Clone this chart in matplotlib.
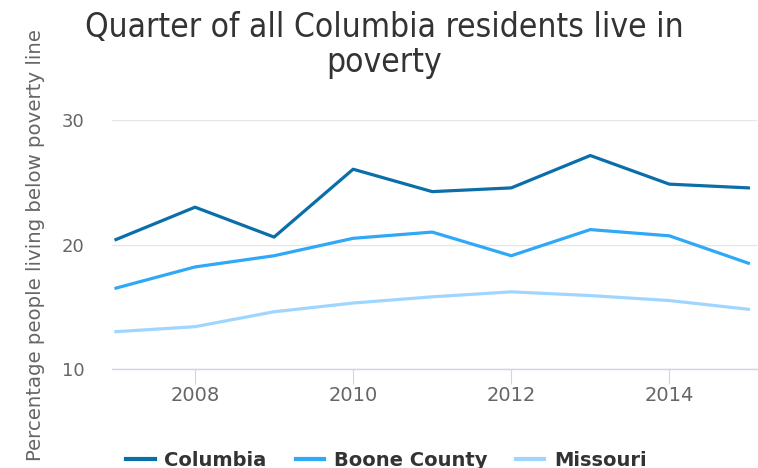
import matplotlib.pyplot as plt

years = [2007, 2008, 2009, 2010, 2011, 2012, 2013, 2014, 2015]
columbia = [20.4, 23.0, 20.6, 26.05, 24.25, 24.55, 27.15, 24.85, 24.55]
boone = [16.5, 18.2, 19.1, 20.5, 21.0, 19.1, 21.2, 20.7, 18.5]
missouri = [13.0, 13.4, 14.6, 15.3, 15.8, 16.2, 15.9, 15.5, 14.8]

fig = plt.figure(figsize=(7.58, 4.68), dpi=100)
ax = fig.add_axes([0.1478, 0.2115, 0.851, 0.532])

ax.plot(years, columbia, color='#0a6ea8', lw=2.3, label='Columbia')
ax.plot(years, boone, color='#30a8f8', lw=2.3, label='Boone County')
ax.plot(years, missouri, color='#9fd6ff', lw=2.3, label='Missouri')

ax.set_xlim(2006.95, 2015.11)
ax.set_ylim(10, 30)
ax.set_yticks([10, 20, 30])
ax.set_xticks([2008, 2010, 2012, 2014])

for s in ['top', 'right', 'left']:
    ax.spines[s].set_visible(False)
ax.spines['bottom'].set_color('#ccd6eb')
ax.spines['bottom'].set_linewidth(1)
ax.grid(axis='y', color='#e6e6e6', lw=1)
ax.set_axisbelow(True)
ax.tick_params(axis='y', length=0, labelsize=13, labelcolor='#666666', pad=20)
ax.tick_params(axis='x', length=11, color='#ccd6eb', labelsize=14, labelcolor='#666666', pad=1)

# two-line title, condensed face
fig.text(0.507, 0.921, 'Quarter of all Columbia residents live in',
         ha='center', va='baseline', fontsize=24, color='#333333', fontstretch='condensed')
fig.text(0.507, 0.846, 'poverty',
         ha='center', va='baseline', fontsize=24, color='#333333', fontstretch='condensed')
fig.text(0.047, 0.476, 'Percentage people living below poverty line', rotation=90,
         ha='center', va='center', fontsize=14.2, color='#666666')

leg = fig.legend(loc='center', bbox_to_anchor=(0.51, 0.017), ncol=3, frameon=False,
                 prop={'size': 14, 'weight': 'bold'}, handlelength=1.45, handletextpad=0.5,
                 columnspacing=1.5, labelcolor='#333333', borderpad=0, borderaxespad=0)
for h in leg.get_lines():
    h.set_linewidth(3)

fig.savefig('out.png', dpi=100)
